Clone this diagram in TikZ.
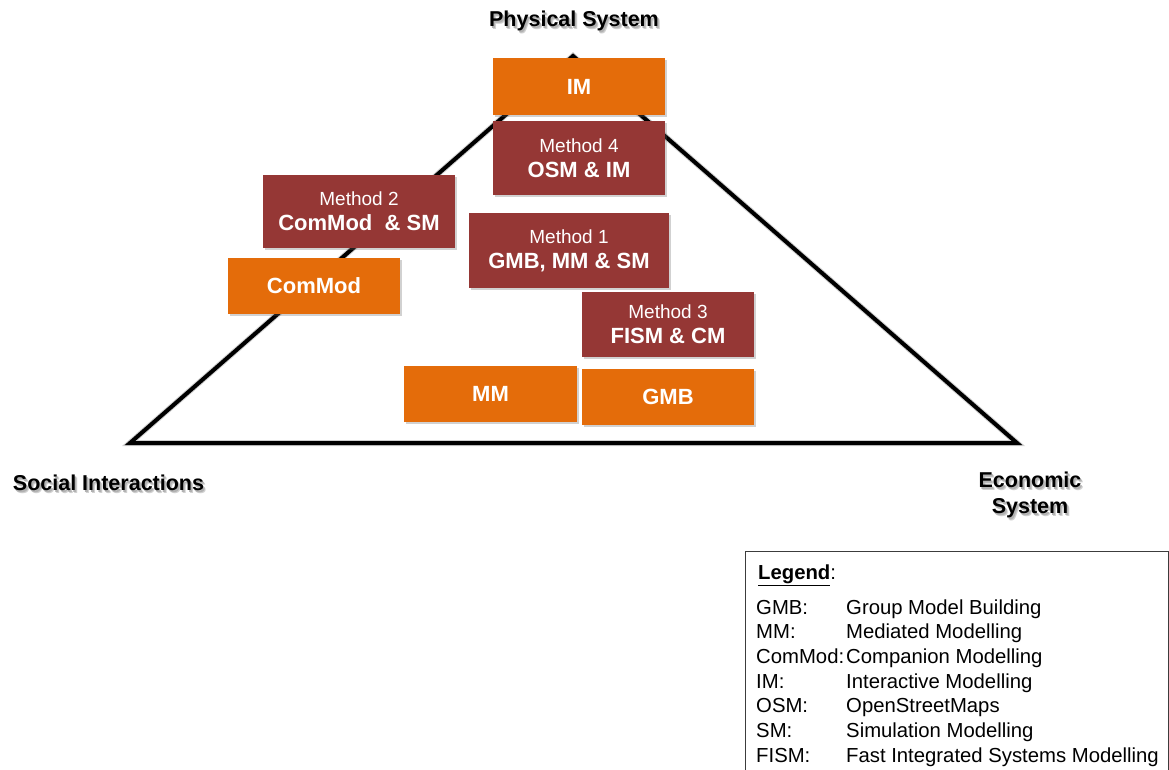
\documentclass[tikz,border=0pt]{standalone}
\usepackage{fontspec}
\setmainfont{Liberation Sans}
\usetikzlibrary{shadows}
\definecolor{boxorange}{RGB}{228,108,10}
\definecolor{boxred}{RGB}{149,55,53}
\definecolor{legendline}{RGB}{60,60,60}

% text with a soft grey shadow set behind it
\newcommand{\softshadowed}[1]{%
  \makebox[0pt][l]{\kern2.5pt\raisebox{-3pt}{\textcolor{black!18}{#1}}}%
  \makebox[0pt][l]{\kern1.5pt\raisebox{-2pt}{\textcolor{black!30}{#1}}}#1}

\begin{document}
\begin{tikzpicture}[x=1pt,y=-1pt,
  box/.style={draw=none, inner sep=0pt, align=center, text=white,
    drop shadow={shadow xshift=2pt, shadow yshift=-2pt, opacity=0.3, fill=black!60}},
  toolbox/.style={box, fill=boxorange, font=\fontsize{22}{24}\selectfont\bfseries},
  methodbox/.style={box, fill=boxred, font=\fontsize{19}{25}\selectfont},
  corner/.style={font=\fontsize{21.5}{26}\selectfont\bfseries, align=center, inner sep=0pt},
  legtext/.style={font=\fontsize{20.3}{24}\selectfont, anchor=base west, inner sep=0pt}
]
\useasboundingbox (0,0) rectangle (1169,769);

% triangle: its shadow, then the outline
\coordinate (apex) at (573,56);
\coordinate (left) at (130,443);
\coordinate (right) at (1017,443);
\draw[line width=6pt, black!18, line join=miter, shift={(2,3)}] (apex) -- (left) -- (right) -- cycle;
\draw[line width=4pt, line join=miter] (apex) -- (left) -- (right) -- cycle;

% modelling approaches
\node[toolbox, minimum width=172pt, minimum height=57pt] (im) at (579,86.5) {IM};
\node[toolbox, minimum width=172pt, minimum height=56pt] (commod) at (314,286) {ComMod};
\node[toolbox, minimum width=173pt, minimum height=56pt] (mm) at (490.5,394) {MM};
\node[toolbox, minimum width=172pt, minimum height=56pt] (gmb) at (668,397) {GMB};

% combined methods
\node[methodbox, minimum width=172pt, minimum height=74pt] (m4) at (579,158)
  {Method 4\\{\fontsize{22}{24}\selectfont\bfseries OSM \& IM}};
\node[methodbox, minimum width=192pt, minimum height=73pt] (m2) at (359,211.5)
  {Method 2\\{\fontsize{22}{24}\selectfont\bfseries ComMod~~\& SM}};
\node[methodbox, minimum width=200pt, minimum height=75pt] (m1) at (569,250.5)
  {Method 1\\{\fontsize{22}{24}\selectfont\bfseries GMB, MM \& SM}};
\node[methodbox, minimum width=172pt, minimum height=65pt] (m3) at (668,324.5)
  {Method 3\\{\fontsize{22}{24}\selectfont\bfseries FISM \& CM}};

% corner labels
\node[corner] (phys) at (574,22.5) {\softshadowed{Physical System}};
\node[corner] (soc) at (108.5,484.5) {\softshadowed{Social Interactions}};
\node[corner] (eco) at (1030,496.5) {\softshadowed{Economic}\\\softshadowed{System}};

% legend
\draw[legendline, line width=1pt] (745,551.5) rectangle (1168.5,780);
\node[legtext] (legtitle) at (758,579) {\textbf{\underline{Legend}}:};
\foreach \abbr/\desc [count=\i from 0] in {GMB:/Group Model Building, MM:/Mediated Modelling,
    ComMod:/Companion Modelling, IM:/Interactive Modelling, OSM:/OpenStreetMaps,
    SM:/Simulation Modelling, FISM:/Fast Integrated Systems Modelling}{
  \node[legtext] (abbr\i) at (756,614+24.7*\i) {\abbr};
  \node[legtext] (desc\i) at (846,614+24.7*\i) {\desc};
}
\end{tikzpicture}
\end{document}
